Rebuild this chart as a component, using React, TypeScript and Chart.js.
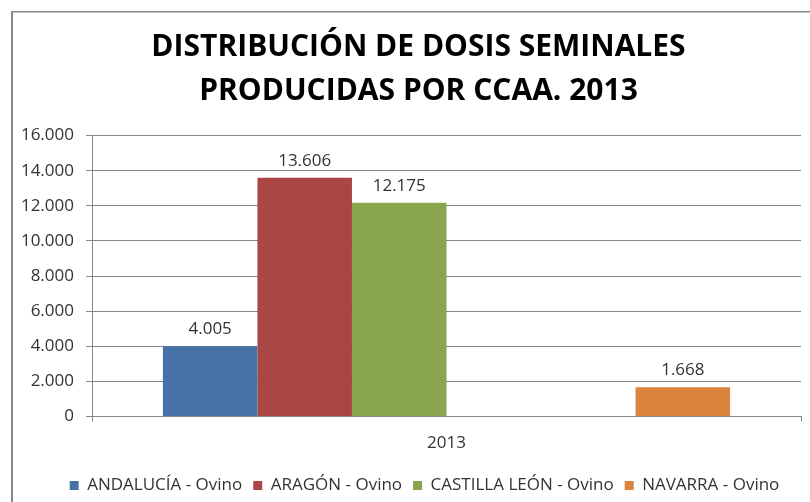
import React, { useEffect, useRef } from "react";
import { Chart, registerables } from "chart.js";

Chart.register(...registerables);

const categories = ["2013"];
const seriesNames = ["ANDALUCÍA - Ovino", "ARAGÓN - Ovino", "CASTILLA LEÓN - Ovino", "", "", "NAVARRA - Ovino"];
const andalucia = [4005];
const aragon = [13606];
const castillaLeon = [12175];
const emptyA: (number | null)[] = [null];
const emptyB: (number | null)[] = [null];
const navarra = [1668];
const colors = ["#4572A7", "#AA4643", "#89A54E", "#000000", "#000000", "#DB843D"];
const titleLines = ["DISTRIBUCIÓN DE DOSIS SEMINALES", "PRODUCIDAS POR CCAA. 2013"];
const yTicks = [0, 2000, 4000, 6000, 8000, 10000, 12000, 14000, 16000];

const fmt = (v: number) => v.toString().replace(/\B(?=(\d{3})+(?!\d))/g, ".");

const FONT = "'Open Sans', sans-serif";

const framePlugin = {
  id: "frame",
  beforeDraw(chart: any) {
    const ctx = chart.ctx;
    ctx.save();
    ctx.fillStyle = "#ffffff";
    ctx.fillRect(0, 0, chart.width, chart.height);
    ctx.fillStyle = "#878787";
    ctx.fillRect(11, 11, 2, chart.height - 11);
    ctx.fillRect(11, 11, chart.width - 11, 1.5);
    ctx.restore();
  },
};

const shiftPlugin = {
  id: "shiftBoxes",
  afterUpdate(chart: any) {
    const t = chart.titleBlock;
    if (t) {
      t.left += 12;
      t.right += 12;
    }
    const l = chart.legend;
    if (l) {
      l.left += 18;
      l.right += 18;
      l.top += 2;
      l.bottom += 2;
    }
  },
};

const labelPlugin = {
  id: "barLabels",
  afterDatasetsDraw(chart: any) {
    const ctx = chart.ctx;
    ctx.save();
    ctx.font = `17px ${FONT}`;
    ctx.fillStyle = "#333333";
    ctx.textAlign = "center";
    ctx.textBaseline = "alphabetic";
    chart.data.datasets.forEach((ds: any, i: number) => {
      const meta = chart.getDatasetMeta(i);
      meta.data.forEach((bar: any, j: number) => {
        const v = ds.data[j];
        if (v == null) return;
        ctx.fillText(fmt(v), bar.x, bar.y - 12);
      });
    });
    ctx.restore();
  },
};

export default function App() {
  const ref = useRef<HTMLCanvasElement>(null);
  useEffect(() => {
    if (!ref.current) return;
    const series = [andalucia, aragon, castillaLeon, emptyA, emptyB, navarra];
    const chart = new Chart(ref.current, {
      type: "bar",
      data: {
        labels: categories,
        datasets: series.map((d, i) => ({
          label: seriesNames[i],
          data: d,
          backgroundColor: colors[i],
          borderWidth: 0,
          categoryPercentage: 0.8,
          barPercentage: 1,
        })),
      },
      options: {
        responsive: false,
        animation: false,
        layout: { padding: { left: 12, right: 9, top: 0, bottom: 0 } },
        plugins: {
          tooltip: { enabled: false },
          title: {
            display: true,
            text: titleLines,
            color: "#000000",
            font: { family: FONT, size: 30, weight: "bold", lineHeight: 1.46 },
            padding: { top: 26, bottom: 22 },
          },
          legend: {
            position: "bottom",
            labels: {
              filter: (item: any) => item.text !== "",
              boxWidth: 9,
              boxHeight: 9,
              padding: 11,
              color: "#333333",
              font: { family: FONT, size: 17 },
            },
          },
        },
        scales: {
          x: {
            grid: { display: true, drawOnChartArea: false, offset: true, color: "#868686", tickLength: 5 },
            border: { display: true, color: "#868686" },
            ticks: { color: "#333333", font: { family: FONT, size: 17 }, padding: 11 },
          },
          y: {
            min: 0,
            max: 16000,
            afterBuildTicks: (scale: any) => {
              scale.ticks = yTicks.map((v) => ({ value: v }));
            },
            afterFit: (scale: any) => {
              scale.width = 80;
            },
            grid: { color: "#868686", tickLength: 6 },
            border: { display: true, color: "#868686" },
            ticks: {
              color: "#333333",
              font: { family: FONT, size: 17 },
              padding: 12,
              callback: (v: any) => fmt(Number(v)),
            },
          },
        },
      },
      plugins: [framePlugin, shiftPlugin, labelPlugin],
    });
    return () => chart.destroy();
  }, []);
  return (
    <div style={{ position: "absolute", left: 0, top: 0, width: 810, height: 502 }}>
      <canvas ref={ref} width={810} height={502} style={{ width: 810, height: 502 }} />
    </div>
  );
}
